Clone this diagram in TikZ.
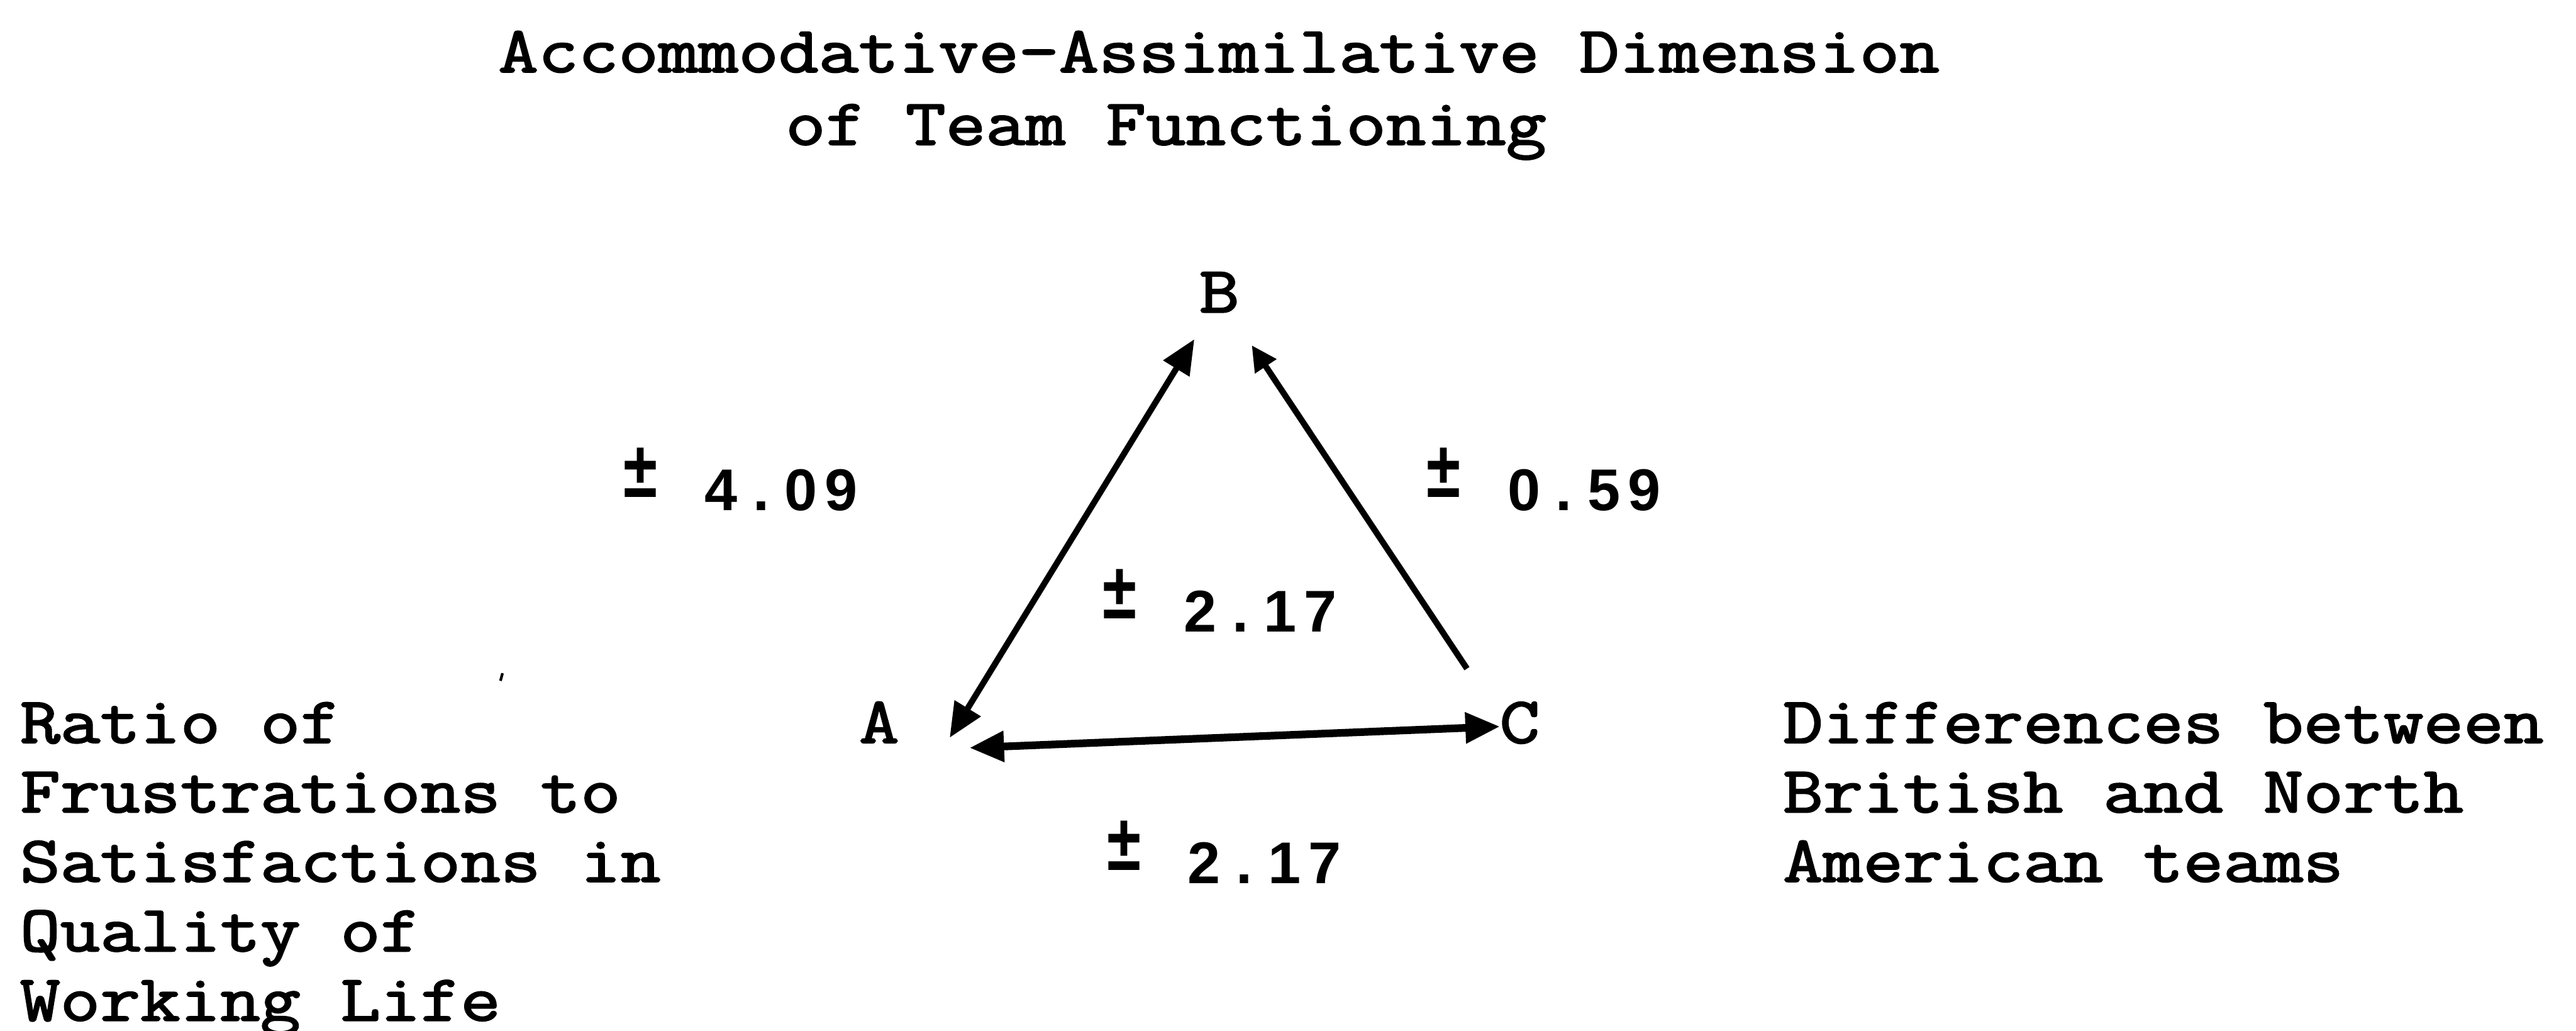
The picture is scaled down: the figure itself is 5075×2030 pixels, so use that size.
\documentclass[tikz,border=0pt]{standalone}
\usepackage{fontspec}
\usetikzlibrary{arrows.meta}
\newfontfamily\twfont{Latin Modern Mono}[FakeStretch=1.19,FakeBold=2.4]
\newfontfamily\dgfont{Liberation Sans}
\newcommand\dbx[1]{\makebox[0.79cm]{#1}}
\newcommand\pmlab[4]{\dbx{\raisebox{0.26cm}{\scalebox{1.05}[1.35]{±}}}\dbx{}\dbx{#1}\dbx{#2}\dbx{#3}\dbx{#4}}
\tikzset{
  bighead/.tip={Triangle[length=0.68cm,width=0.58cm]},
  smallhead/.tip={Triangle[length=0.5cm,width=0.48cm]}}
\begin{document}
\begin{tikzpicture}[x=0.01cm,y=-0.01cm,
  tw/.style={font=\twfont\fontsize{36.6pt}{38.9pt}\selectfont, inner sep=0pt, anchor=base west},
  num/.style={font=\dgfont\bfseries\fontsize{33pt}{36pt}\selectfont, inner sep=0pt, anchor=base west},
  link/.style={line width=3.4pt}]
\fill[white] (0,0) rectangle (5075,2030);
\useasboundingbox (0,0) rectangle (5075,2030);

% title
\node[tw] (t1) at (981,142) {Accommodative-Assimilative Dimension};
\node[tw] (t2) at (1547,285) {of Team Functioning};

% vertices
\node[tw,anchor=base] (B) at (2402,615) {B};
\node[tw,anchor=base] (A) at (1732,1463) {A};
\node[tw,anchor=base] (C) at (2994,1463) {C};

% side texts
\node[tw] (left) at (39,1463) {\vtop{\hbox{Ratio of}\hbox{Frustrations to}\hbox{Satisfactions in}\hbox{Quality of}\hbox{Working Life}}};
\node[tw] (right) at (3512,1463) {\vtop{\hbox{Differences between}\hbox{British and North}\hbox{American teams}}};

% values
\node[num] (vab) at (1222,1005) {\pmlab{4}{.}{0}{9}};
\node[num] (vcb) at (2804,1005) {\pmlab{0}{.}{5}{9}};
\node[num] (vin) at (2166,1245) {\pmlab{2}{.}{1}{7}};
\node[num] (vac) at (2174,1740) {\pmlab{2}{.}{1}{7}};

% connector ends
\coordinate (Aab) at (1871,1453);
\coordinate (Bab) at (2353,668);
\coordinate (Bcb) at (2466,680);
\coordinate (Ccb) at (2890,1317);
\coordinate (Aac) at (1910,1473);
\coordinate (Cac) at (2955,1431);

\draw[link,{bighead}-{bighead}] (Aab) -- (Bab);
\draw[link,-{smallhead}] (Ccb) -- (Bcb);
\draw[link,line width=4.3pt,{bighead}-{bighead}] (Aac) -- (Cac);

% stray mark
\coordinate (sp1) at (990,1326);
\coordinate (sp2) at (986,1341);
\draw[line width=1.5pt] (sp1) -- (sp2);
\end{tikzpicture}
\end{document}
